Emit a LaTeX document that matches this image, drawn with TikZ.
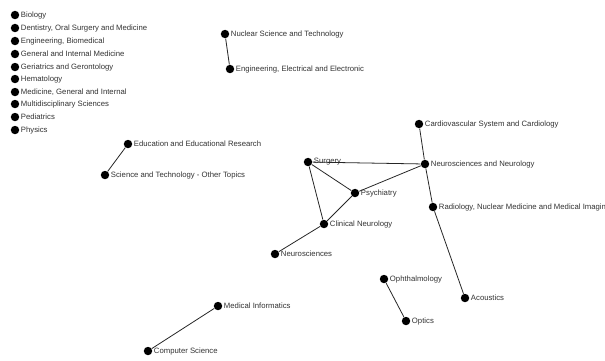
\documentclass[tikz,border=0pt]{standalone}
\usepackage{fontspec}
\setmainfont{Liberation Sans}
\usepackage{tikz}
\usetikzlibrary{positioning}
\tikzset{
    % dot of one subject category
    subj/.style={
        circle,
        fill=black,
        inner sep=0pt,
        minimum size=4.8pt
    },
    subjlabel/.style={
        font=\fontsize{4.4}{5}\selectfont,
        inner sep=0.6pt,
        text=black!80
    },
    link/.style={
        line width=0.45pt,
        black!85
    }
}

\begin{document}
\begin{tikzpicture}[x=0.02cm, y=-0.02cm, every label/.style={subjlabel}, label distance=0pt]
    \useasboundingbox[fill=white] (0,0) rectangle (605,360);

    \node[subj, label=right:Biology] (bio) at (15,15) {};
    \node[subj, label=right:{Dentistry, Oral Surgery and Medicine}] (dent) at (15,28) {};
    \node[subj, label=right:{Engineering, Biomedical}] (engbio) at (15,41) {};
    \node[subj, label=right:General and Internal Medicine] (genint) at (15,54) {};
    \node[subj, label=right:Geriatrics and Gerontology] (geri) at (15,67) {};
    \node[subj, label=right:Hematology] (hema) at (15,79) {};
    \node[subj, label=right:{Medicine, General and Internal}] (medgen) at (15,92) {};
    \node[subj, label=right:Multidisciplinary Sciences] (multi) at (15,104) {};
    \node[subj, label=right:Pediatrics] (ped) at (15,117) {};
    \node[subj, label=right:Physics] (phys) at (15,130) {};

    \node[subj, label=right:Nuclear Science and Technology] (nucl) at (225,34) {};
    \node[subj, label=right:{Engineering, Electrical and Electronic}] (engel) at (230,69) {};

    \node[subj, label=right:Education and Educational Research] (edu) at (128,144) {};
    \node[subj, label=right:Science and Technology - Other Topics] (scitech) at (105,175) {};

    \node[subj, label=right:Cardiovascular System and Cardiology] (cardio) at (419,124) {};
    \node[subj, label=right:Neurosciences and Neurology] (neuro) at (425,164) {};
    \node[subj, label=right:Surgery] (surg) at (308,162) {};
    \node[subj, label=right:Psychiatry] (psych) at (355,193) {};
    \node[subj, label=right:{Radiology, Nuclear Medicine and Medical Imaging}] (radio) at (433,207) {};
    \node[subj, label=right:Clinical Neurology] (clin) at (324,224) {};
    \node[subj, label=right:Neurosciences] (neurosci) at (275,254) {};
    \node[subj, label=right:Acoustics] (acou) at (465,298) {};

    \node[subj, label=right:Ophthalmology] (ophth) at (384,279) {};
    \node[subj, label=right:Optics] (optics) at (406,321) {};

    \node[subj, label=right:Medical Informatics] (medinf) at (218,306) {};
    \node[subj, label=right:Computer Science] (comp) at (148,351) {};

    \draw[link] (nucl) -- (engel);
    \draw[link] (edu) -- (scitech);
    \draw[link] (cardio) -- (neuro);
    \draw[link] (surg) -- (neuro);
    \draw[link] (psych) -- (neuro);
    \draw[link] (neuro) -- (radio);
    \draw[link] (radio) -- (acou);
    \draw[link] (surg) -- (psych);
    \draw[link] (surg) -- (clin);
    \draw[link] (psych) -- (clin);
    \draw[link] (clin) -- (neurosci);
    \draw[link] (ophth) -- (optics);
    \draw[link] (medinf) -- (comp);
\end{tikzpicture}
\end{document}
